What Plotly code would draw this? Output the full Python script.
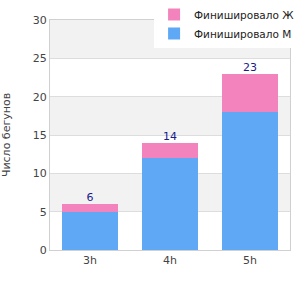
import plotly.graph_objects as go

categories = ["3h", "4h", "5h"]
men = [5, 12, 18]
women = [1, 2, 5]
totals = [m + w for m, w in zip(men, women)]

fig = go.Figure()
fig.add_trace(go.Bar(x=categories, y=men, name="Финишировало М",
                     marker=dict(color="#5fa8f5", line=dict(width=0))))
fig.add_trace(go.Bar(x=categories, y=women, name="Финишировало Ж",
                     marker=dict(color="#f283bc", line=dict(width=0))))
fig.add_trace(go.Scatter(x=categories, y=totals, mode="text", text=[str(t) for t in totals],
                         textposition="top center", showlegend=False,
                         textfont=dict(color="#1a1a8c", size=11), hoverinfo="skip"))

for lo in [5, 15, 25]:
    fig.add_shape(type="rect", xref="paper", yref="y", x0=0, x1=1, y0=lo, y1=lo + 5,
                  fillcolor="#f2f2f2", line=dict(width=0), layer="below")

fig.update_layout(
    barmode="stack",
    bargap=0.29,
    width=300, height=300,
    margin=dict(l=50, r=10, t=20, b=50, autoexpand=False),
    paper_bgcolor="white", plot_bgcolor="white",
    font=dict(family="DejaVu Sans", size=11, color="#444"),
    legend=dict(traceorder="reversed",
                x=1.042, y=1.087, xanchor="right", yanchor="top",
                bgcolor="white", font=dict(size=10.5, color="#222"),
                itemwidth=30, tracegroupgap=0),
    yaxis=dict(range=[0, 30], dtick=5, showgrid=True, gridcolor="#dddddd",
               showline=True, linecolor="#d0d0d0", mirror=True, ticks="",
               title=dict(text="Число бегунов", font=dict(size=11, color="#444"), standoff=20),
               zeroline=False),
    xaxis=dict(showline=True, linecolor="#d0d0d0", mirror=True, ticks=""),
)

fig.write_html("out.html")
